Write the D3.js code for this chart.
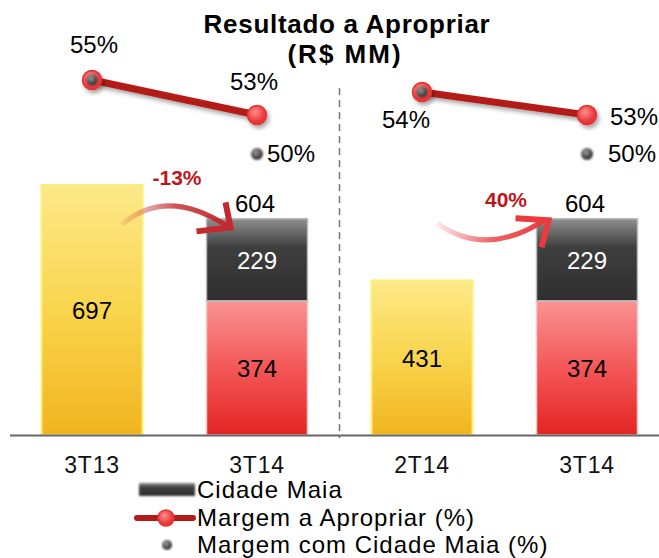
<!DOCTYPE html>
<html>
<head>
<meta charset="utf-8">
<script src="https://cdn.jsdelivr.net/npm/d3@7"></script>
<style>
  body { margin: 0; background: #fff; }
  svg { display: block; font-family: Arial, "Liberation Sans", sans-serif; }
</style>
</head>
<body>
<svg class="root"></svg>
<script>
// chart data
var categories = ["3T13", "3T14", "2T14", "3T14"];
var totals = [697, 604, 431, 604];
var resultado = [697, 0, 431, 0];      // yellow bars
var apropriar = [0, 374, 0, 374];      // red part
var cidadeMaia = [0, 229, 0, 229];     // black part
var margemApropriar = [55, 53, 54, 53];
var margemCidadeMaia = [55, 50, 54, 50];
var pairs = [[0, 1], [2, 3]];
var variacoes = ["-13%", "40%"];

var width = 659, height = 558;

var svg = d3.select(".root")
    .attr("width", width)
    .attr("height", height);

var defs = svg.append("defs");

function vgrad(id, stops) {
  var g = defs.append("linearGradient").attr("id", id)
      .attr("x1", 0).attr("y1", 0).attr("x2", 0).attr("y2", 1);
  stops.forEach((s) => {
    g.append("stop").attr("offset", s[0]).attr("stop-color", s[1]);
  });
}
vgrad("gYellow", [[0, "#fde98a"], [0.5, "#f9d54d"], [1, "#f1b420"]]);
vgrad("gRed", [[0, "#f99393"], [0.5, "#f45757"], [1, "#e32424"]]);
vgrad("gBlack", [[0, "#8f8f8f"], [0.35, "#3e3e3e"], [1, "#2f2f2f"]]);

var rg = defs.append("radialGradient").attr("id", "gDot").attr("cx", "40%").attr("cy", "35%");
rg.append("stop").attr("offset", 0).attr("stop-color", "#ff8c8c");
rg.append("stop").attr("offset", 1).attr("stop-color", "#e8393a");
var rg2 = defs.append("radialGradient").attr("id", "gGray").attr("cx", "40%").attr("cy", "35%");
rg2.append("stop").attr("offset", 0).attr("stop-color", "#a0a0a0");
rg2.append("stop").attr("offset", 1).attr("stop-color", "#3a3a3a");

var shadow = defs.append("filter").attr("id", "shadow")
    .attr("x", "-30%").attr("y", "-30%").attr("width", "160%").attr("height", "160%");
shadow.append("feDropShadow").attr("dx", 2).attr("dy", 3)
    .attr("stdDeviation", 2).attr("flood-opacity", 0.35);

var soft = defs.append("filter").attr("id", "soft");
soft.append("feGaussianBlur").attr("stdDeviation", 0.9);

// scales
var x = d3.scaleBand()
    .domain(d3.range(categories.length))
    .range([9.5, 669.5])
    .paddingInner(0.388)
    .paddingOuter(0.194);

var y = d3.scaleLinear()
    .domain([0, 697])
    .range([435, 185]);

// margin values are not placed linearly in the original
var yPct = d3.scaleLinear()
    .domain([50, 53, 54, 55])
    .range([154, 115, 92, 80]);

var xc = (i) => x(i) + x.bandwidth() / 2;

// title
svg.append("text")
    .attr("x", 347).attr("y", 33)
    .attr("text-anchor", "middle")
    .style("font-weight", "bold").style("font-size", "26px")
    .style("letter-spacing", "0.7px")
    .text("Resultado a Apropriar");
svg.append("text")
    .attr("x", 345).attr("y", 63)
    .attr("text-anchor", "middle")
    .style("font-weight", "bold").style("font-size", "26px")
    .style("letter-spacing", "2px")
    .text("(R$ MM)");

// divider
svg.append("line")
    .attr("x1", (xc(1) + xc(2)) / 2).attr("x2", (xc(1) + xc(2)) / 2)
    .attr("y1", 88).attr("y2", 438)
    .attr("stroke", "#777").attr("stroke-width", 1.5)
    .attr("stroke-dasharray", "7,5");

// bars
var singles = categories.map((c, i) => ({ i: i, v: resultado[i] }))
    .filter((d) => d.v > 0);

svg.selectAll(".yellow")
    .data(singles)
  .enter().append("rect")
    .attr("class", "yellow")
    .attr("x", (d) => x(d.i))
    .attr("y", (d) => y(d.v))
    .attr("width", x.bandwidth())
    .attr("height", (d) => y(0) - y(d.v))
    .attr("fill", "url(#gYellow)")
    .attr("stroke", "#fdf07a").attr("stroke-width", 2);

var stack = categories.map((c, i) => ({ i: i, red: apropriar[i], black: cidadeMaia[i] }))
    .filter((d) => d.red > 0);

svg.selectAll(".red")
    .data(stack)
  .enter().append("rect")
    .attr("x", (d) => x(d.i))
    .attr("y", (d) => y(d.red))
    .attr("width", x.bandwidth())
    .attr("height", (d) => y(0) - y(d.red))
    .attr("fill", "url(#gRed)")
    .attr("stroke", "#f7c9c9").attr("stroke-width", 1.5);

svg.selectAll(".black")
    .data(stack)
  .enter().append("rect")
    .attr("x", (d) => x(d.i))
    .attr("y", (d) => y(d.red + d.black))
    .attr("width", x.bandwidth())
    .attr("height", (d) => y(d.red) - y(d.red + d.black))
    .attr("fill", "url(#gBlack)")
    .attr("stroke", "#bbb").attr("stroke-width", 1.5);

// value labels
categories.forEach((c, i) => {
  if (resultado[i] > 0) {
    svg.append("text")
      .attr("x", xc(i)).attr("y", y(resultado[i] / 2) + 9)
      .attr("text-anchor", "middle").style("font-size", "24px")
      .text(resultado[i]);
  } else {
    svg.append("text")
      .attr("x", xc(i)).attr("y", y(apropriar[i] / 2) + 9)
      .attr("text-anchor", "middle").style("font-size", "24px")
      .text(apropriar[i]);
    svg.append("text")
      .attr("x", xc(i)).attr("y", y(apropriar[i] + cidadeMaia[i] / 2) + 9)
      .attr("text-anchor", "middle").style("font-size", "24px")
      .attr("fill", "#fff")
      .text(cidadeMaia[i]);
    svg.append("text")
      .attr("x", xc(i) - 2).attr("y", y(totals[i]) - 6)
      .attr("text-anchor", "middle").style("font-size", "24px")
      .text(totals[i]);
  }
});

// x axis
var xAxis = d3.axisBottom(x)
    .tickSize(0).tickPadding(22)
    .tickFormat((i) => categories[i]);

var ax = svg.append("g")
    .attr("transform", "translate(0," + y(0) + ")")
    .call(xAxis);
ax.select(".domain").attr("stroke", "#666").attr("stroke-width", 2);
ax.selectAll("text")
    .style("font-size", "23px").style("letter-spacing", "0.8px")
    .attr("fill", "#111").attr("font-family", null);

// variation arrows
function arrow(from, to, k) {
  var top = y(totals[to]);
  var a, b, tip, arm1, arm2, color;
  if (k === 0) {
    a = [xc(from) + 30, top + 6];
    b = [xc(from) + 75, top - 32];
    tip = [x(to) + 24, top + 9];
    arm1 = [tip[0] - 5, tip[1] - 25];
    arm2 = [tip[0] - 34, tip[1] + 4];
    color = "#c3292d";
  } else {
    a = [xc(from) + 15, top + 5];
    b = [xc(from) + 65, top + 40];
    tip = [x(to) + 12, top + 2];
    arm1 = [tip[0] - 33, tip[1] - 2];
    arm2 = [tip[0] - 7, tip[1] + 27];
    color = "#ea3a3e";
  }
  var gid = "gArrow" + k;
  var g = defs.append("linearGradient").attr("id", gid)
      .attr("gradientUnits", "userSpaceOnUse")
      .attr("x1", a[0]).attr("y1", 0).attr("x2", tip[0]).attr("y2", 0);
  g.append("stop").attr("offset", 0).attr("stop-color", color).attr("stop-opacity", 0.1);
  g.append("stop").attr("offset", 0.5).attr("stop-color", color).attr("stop-opacity", 0.8);
  g.append("stop").attr("offset", 1).attr("stop-color", color).attr("stop-opacity", 1);

  var p = d3.path();
  p.moveTo(a[0], a[1]);
  p.quadraticCurveTo(b[0], b[1], tip[0] - 3, tip[1] - 1);
  svg.append("path")
    .attr("d", p.toString())
    .attr("fill", "none")
    .attr("stroke", "url(#" + gid + ")")
    .attr("stroke-width", 5);
  svg.append("path")
    .attr("d", d3.line()([arm1, tip, arm2]))
    .attr("fill", "none")
    .attr("stroke", color)
    .attr("stroke-width", 6)
    .attr("stroke-linejoin", "miter");
}
pairs.forEach((p, k) => arrow(p[0], p[1], k));

svg.append("text")
    .attr("x", 177).attr("y", 185)
    .attr("text-anchor", "middle")
    .style("font-weight", "bold").style("font-size", "21px")
    .attr("fill", "#c0161b")
    .text(variacoes[0]);
svg.append("text")
    .attr("x", 506).attr("y", 207)
    .attr("text-anchor", "middle")
    .style("font-weight", "bold").style("font-size", "21px")
    .attr("fill", "#c0161b")
    .text(variacoes[1]);

// margin lines
var line = d3.line()
    .x((i) => xc(i))
    .y((i) => yPct(margemApropriar[i]));

pairs.forEach((p) => {
  svg.append("path")
    .attr("d", line(p))
    .attr("fill", "none")
    .attr("stroke", "#b31d17")
    .attr("stroke-width", 7)
    .attr("filter", "url(#shadow)");
});

svg.selectAll(".mark")
    .data(margemApropriar)
  .enter().append("circle")
    .attr("cx", (d, i) => xc(i))
    .attr("cy", (d) => yPct(d))
    .attr("r", 9.5)
    .attr("fill", "url(#gDot)")
    .attr("stroke", "#e53030").attr("stroke-width", 1.5)
    .attr("filter", "url(#shadow)");

svg.selectAll(".gray")
    .data(margemCidadeMaia)
  .enter().append("circle")
    .attr("cx", (d, i) => xc(i))
    .attr("cy", (d) => yPct(d))
    .attr("r", (d, i) => d === margemApropriar[i] ? 5.5 : 6)
    .attr("fill", "url(#gGray)")
    .attr("filter", "url(#soft)");

// margin labels
var pctPos = [
  { dx: 2, dy: -27, anchor: "middle" },
  { dx: -3, dy: -25, anchor: "middle" },
  { dx: -16, dy: 36, anchor: "middle" },
  { dx: 23, dy: 10, anchor: "start" }
];
margemApropriar.forEach((d, i) => {
  svg.append("text")
    .attr("x", xc(i) + pctPos[i].dx)
    .attr("y", yPct(d) + pctPos[i].dy)
    .attr("text-anchor", pctPos[i].anchor)
    .style("font-size", "24px")
    .text(d + "%");
});
margemCidadeMaia.forEach((d, i) => {
  if (d === margemApropriar[i]) return;
  svg.append("text")
    .attr("x", xc(i) + (i === 1 ? 10 : 21))
    .attr("y", yPct(d) + 8)
    .style("font-size", "24px")
    .text(d + "%");
});

// legend
var leg = svg.append("g");
leg.append("rect")
    .attr("x", 139).attr("y", 483).attr("width", 56).attr("height", 13)
    .attr("fill", "url(#gBlack)").attr("filter", "url(#soft)");
leg.append("line")
    .attr("x1", 137).attr("x2", 193).attr("y1", 518).attr("y2", 518)
    .attr("stroke", "#b31d17").attr("stroke-width", 6).attr("stroke-linecap", "round");
leg.append("circle")
    .attr("cx", 166).attr("cy", 518).attr("r", 8)
    .attr("fill", "url(#gDot)").attr("stroke", "#e53030").attr("stroke-width", 1.5);
leg.append("circle")
    .attr("cx", 167).attr("cy", 545).attr("r", 5)
    .attr("fill", "url(#gGray)").attr("filter", "url(#soft)");

var legendLabels = ["Cidade Maia", "Margem a Apropriar (%)", "Margem com Cidade Maia (%)"];
leg.selectAll(".lt")
    .data(legendLabels)
  .enter().append("text")
    .attr("x", 197)
    .attr("y", (d, i) => 498 + i * 27.5)
    .style("font-size", "24px").style("letter-spacing", "1px")
    .text((d) => d);
</script>
</body>
</html>
